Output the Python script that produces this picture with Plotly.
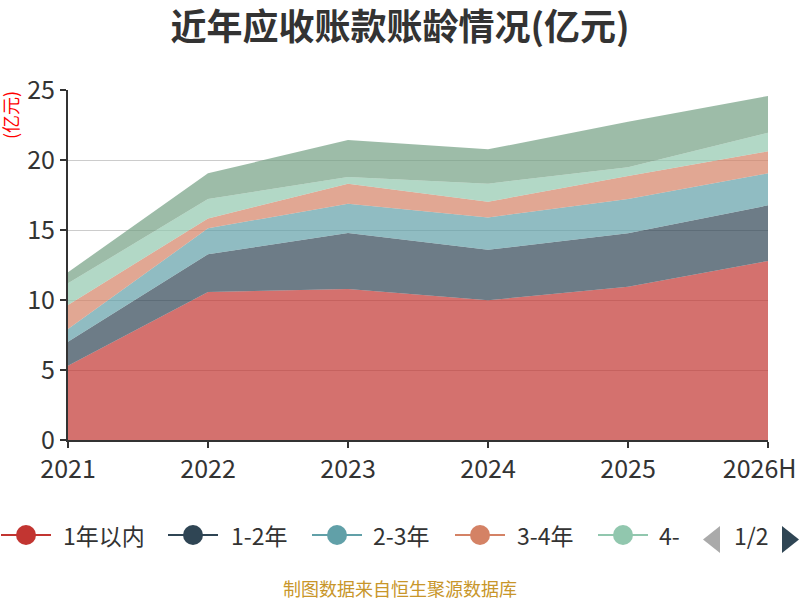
import plotly.graph_objects as go

categories = ["2021", "2022", "2023", "2024", "2025", "2026H"]
series_names = ["1年以内", "1-2年", "2-3年", "3-4年", "4-5年", "5年以上"]
v_within1 = [5.31, 10.57, 10.79, 9.98, 10.95, 12.79]
v_1to2 = [1.71, 2.69, 4.00, 3.61, 3.81, 3.97]
v_2to3 = [0.91, 1.86, 2.09, 2.31, 2.45, 2.29]
v_3to4 = [1.71, 0.71, 1.43, 1.12, 1.65, 1.57]
v_4to5 = [1.55, 1.38, 0.48, 1.29, 0.62, 1.33]
v_over5 = [0.79, 1.84, 2.64, 2.45, 3.26, 2.62]
series_values = [v_within1, v_1to2, v_2to3, v_3to4, v_4to5, v_over5]
y_ticks = [0, 5, 10, 15, 20, 25]

palette = ["#c23531", "#2f4554", "#61a0a8", "#d48265", "#91c7ae", "#749f83"]


def rgba(hex_color, a):
    h = hex_color.lstrip("#")
    r, g, b = int(h[0:2], 16), int(h[2:4], 16), int(h[4:6], 16)
    return f"rgba({r},{g},{b},{a})"


FONT = "Noto Sans CJK SC, Microsoft YaHei, sans-serif"

fig = go.Figure()
for name, vals, col in zip(series_names, series_values, palette):
    fig.add_trace(go.Scatter(
        x=categories, y=vals, name=name, stackgroup="one", mode="none",
        fillcolor=rgba(col, 0.7), showlegend=False,
        hovertemplate="%{x}<br>" + name + ": %{y}<extra></extra>",
    ))

# plot area in pixels
L, R, T, B = 68, 768, 90, 440


def X(px):
    return (px - L) / (R - L)


def Y(py):
    return (B - py) / (B - T)


shapes = []
annotations = []

# manual legend (page 1 of 2)
leg_cy = 535
circle_cx = [26, 193, 337, 480, 623]
text_x = [61, 229, 371, 515, 657]
for i in range(5):
    cx = circle_cx[i]
    col = palette[i]
    shapes.append(dict(type="line", xref="paper", yref="paper",
                       x0=X(cx - 25), x1=X(cx + 25), y0=Y(leg_cy), y1=Y(leg_cy),
                       line=dict(color=col, width=2)))
    shapes.append(dict(type="circle", xref="paper", yref="paper",
                       x0=X(cx - 10), x1=X(cx + 10), y0=Y(leg_cy + 10), y1=Y(leg_cy - 10),
                       fillcolor=col, line=dict(width=0)))
    label = series_names[i] if i < 4 else series_names[i][:2]
    annotations.append(dict(text=label, xref="paper", yref="paper",
                            x=X(text_x[i]), y=Y(leg_cy), xanchor="left", yanchor="middle",
                            showarrow=False, font=dict(family=FONT, size=23, color="#333333")))

# pager
shapes.append(dict(type="path", xref="paper", yref="paper",
                   path=f"M {X(720)} {Y(526)} L {X(720)} {Y(553)} L {X(703)} {Y(539.5)} Z",
                   fillcolor="#aaaaaa", line=dict(width=0)))
shapes.append(dict(type="path", xref="paper", yref="paper",
                   path=f"M {X(782)} {Y(526)} L {X(782)} {Y(553)} L {X(799)} {Y(539.5)} Z",
                   fillcolor="#2f4554", line=dict(width=0)))
annotations.append(dict(text="1/2", xref="paper", yref="paper",
                        x=X(751), y=Y(leg_cy), xanchor="center", yanchor="middle",
                        showarrow=False, font=dict(family=FONT, size=23, color="#333333")))

# y axis name
annotations.append(dict(text="(亿元)", xref="paper", yref="paper",
                        x=X(10), y=Y(115), xanchor="center", yanchor="middle",
                        textangle=-90, showarrow=False,
                        font=dict(family=FONT, size=18, color="#ff0000")))

# footer
annotations.append(dict(text="制图数据来自恒生聚源数据库", xref="paper", yref="paper",
                        x=X(400), y=Y(588), xanchor="center", yanchor="middle",
                        showarrow=False, font=dict(family=FONT, size=18, color="#c8962a")))

# keep the last tick label inside the canvas (non-breaking spaces nudge it left)
tick_text = categories[:-1] + [categories[-1] + "\u00a0\u00a0\u00a0"]

fig.update_layout(
    width=800, height=600, autosize=False,
    margin=dict(l=L, r=800 - R, t=T, b=600 - B, autoexpand=False),
    paper_bgcolor="white", plot_bgcolor="white",
    title=dict(text="<b>近年应收账款账龄情况(亿元)</b>", x=0.5, xanchor="center",
               y=1 - 27 / 600, yanchor="middle", yref="container",
               font=dict(family=FONT, size=36, color="#333333")),
    xaxis=dict(type="category", range=[0, len(categories) - 1], automargin=False,
               tickmode="array", tickvals=categories, ticktext=tick_text,
               showline=True, linecolor="#333333", linewidth=2,
               ticks="outside", ticklen=6, tickcolor="#333333", tickwidth=2,
               showgrid=False, tickfont=dict(family=FONT, size=25, color="#333333")),
    yaxis=dict(range=[0, 25], tickvals=y_ticks, automargin=False,
               showline=True, linecolor="#333333", linewidth=2,
               ticks="outside", ticklen=6, tickcolor="#333333", tickwidth=2,
               showgrid=True, gridcolor="#cccccc", gridwidth=1, zeroline=False,
               tickfont=dict(family=FONT, size=25, color="#333333")),
    shapes=shapes, annotations=annotations, showlegend=False,
)

fig.write_html(
    "out.html",
    config={"responsive": False, "displayModeBar": False},
    post_script="document.documentElement.style.margin='0';document.body.style.margin='0';"
                "document.documentElement.style.overflow='hidden';document.body.style.overflow='hidden';",
)
